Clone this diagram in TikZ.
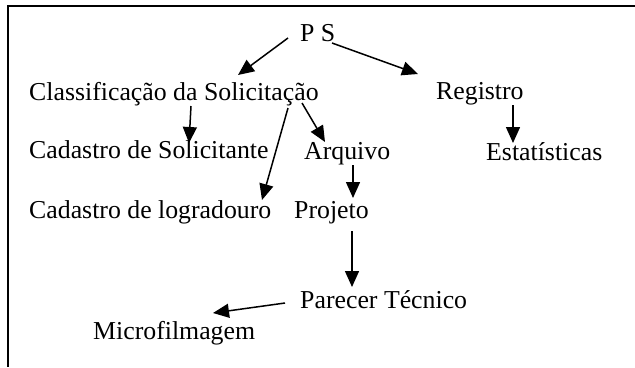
\documentclass[tikz,border=0pt]{standalone}
\usepackage{fontspec}
\setmainfont{Liberation Serif}
\usetikzlibrary{arrows.meta}
\begin{document}
\begin{tikzpicture}[x=1bp,y=-1bp,
  lbl/.style={anchor=base west,inner sep=0pt,font=\fontsize{25.8bp}{30bp}\selectfont},
  arr/.style={line width=1.5bp,-{Triangle[length=16bp,width=14bp]}},
  frame/.style={line width=1.8bp}]
\useasboundingbox (0,0) rectangle (635,367);
\draw[frame] (635,5.7) -- (7.9,5.7) -- (7.9,367);
\node[lbl] (ps) at (300,41) {P S};
\node[lbl] (cls) at (29,100) {Classificação da Solicitação};
\node[lbl] (reg) at (436,99) {Registro};
\node[lbl] (cadsol) at (29,158) {Cadastro de Solicitante};
\node[lbl] (arq) at (304,159) {Arquivo};
\node[lbl] (est) at (486,160) {Estatísticas};
\node[lbl] (cadlog) at (29,218) {Cadastro de logradouro};
\node[lbl] (proj) at (294,218) {Projeto};
\node[lbl] (par) at (300,308) {Parecer Técnico};
\node[lbl] (mic) at (93,339) {Microfilmagem};
\draw[arr] ([shift={(-12,-3)}]ps.base west) -- ([shift={(209,-25)}]cls.base west);
\draw[arr] ([shift={(32,2)}]ps.base west) -- ([shift={(-18,-25)}]reg.base west);
\draw[arr] ([shift={(162,6)}]cls.base west) -- ([shift={(160,-15)}]cadsol.base west);
\draw[arr] ([shift={(259,8)}]cls.base west) -- ([shift={(233,-18)}]cadlog.base west);
\draw[arr] ([shift={(273,3)}]cls.base west) -- ([shift={(21,-17)}]arq.base west);
\draw[arr] ([shift={(77,6)}]reg.base west) -- ([shift={(27,-17)}]est.base west);
\draw[arr] ([shift={(49,6)}]arq.base west) -- ([shift={(59,-20)}]proj.base west);
\draw[arr] ([shift={(58,13)}]proj.base west) -- ([shift={(52,-21)}]par.base west);
\draw[arr] ([shift={(-15,-5)}]par.base west) -- ([shift={(120,-26)}]mic.base west);
\end{tikzpicture}
\end{document}
